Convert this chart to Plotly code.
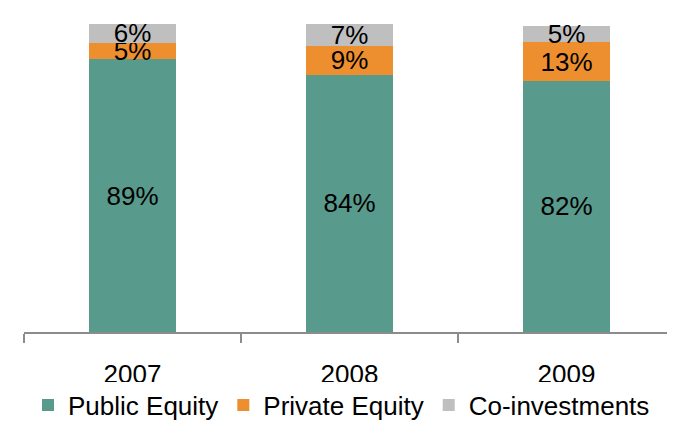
import plotly.graph_objects as go

# Portfolio mix by year (share of total, %)
years = ["2007", "2008", "2009"]
public_equity = [88.5, 83.6, 81.5]
private_equity = [5.4, 9.2, 12.6]
co_investments = [6.1, 7.2, 5.1]

public_labels = ["89%", "84%", "82%"]
private_labels = ["5%", "9%", "13%"]
co_labels = ["6%", "7%", "5%"]

GREEN = "#589A8C"
ORANGE = "#EE8F2F"
GRAY = "#BFBFBF"
FONT = "Liberation Sans, Arial, sans-serif"

fig = go.Figure()

for name, vals, labels, color in [
    ("Public Equity", public_equity, public_labels, GREEN),
    ("Private Equity", private_equity, private_labels, ORANGE),
    ("Co-investments", co_investments, co_labels, GRAY),
]:
    fig.add_trace(go.Bar(
        x=years,
        y=vals,
        name=name,
        text=labels,
        textposition="inside",
        insidetextanchor="middle",
        textangle=0,
        textfont=dict(color="black", size=26, family=FONT),
        marker=dict(color=color, line=dict(width=0)),
        hoverinfo="skip",
    ))

# page body has an 8px margin, so the figure is sized to fit the window
fig.update_layout(
    barmode="stack",
    bargap=0.6,
    width=667,
    height=413,
    margin=dict(l=16, r=0, t=16, b=89, autoexpand=False),
    plot_bgcolor="white",
    paper_bgcolor="white",
    font=dict(family=FONT, color="black"),
    uniformtext=dict(minsize=26, mode="show"),
    showlegend=True,
    legend=dict(
        orientation="h",
        traceorder="normal",
        x=0.5, xanchor="center", xref="container",
        y=16 / 413, yanchor="middle", yref="container",
        font=dict(size=26, family=FONT),
        itemwidth=30,
    ),
)

fig.update_xaxes(
    showline=True,
    linecolor="#8C8C8C",
    linewidth=1.5,
    ticks="outside",
    tickson="boundaries",
    ticklen=9,
    tickcolor="#8C8C8C",
    tickwidth=1.5,
    ticklabelstandoff=18,
    tickfont=dict(size=26, family=FONT),
    showgrid=False,
    automargin=False,
)
fig.update_yaxes(
    range=[0, 100],
    visible=False,
    showgrid=False,
    automargin=False,
)

fig.write_html("out.html")
